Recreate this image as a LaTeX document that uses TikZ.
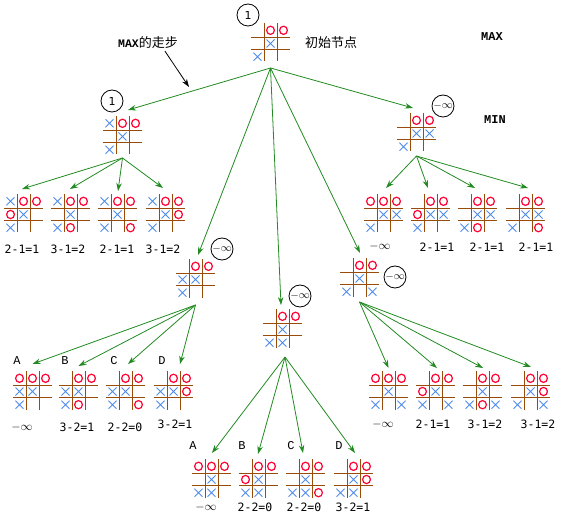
\documentclass[tikz,border=0pt]{standalone}
\usepackage{fontspec}
\setmainfont{DejaVu Sans}
\newfontfamily\cjkfont{Noto Sans CJK SC}
\newfontfamily\tagfont{Liberation Mono}
\newfontfamily\scorefont{DejaVu Sans Mono}
\usetikzlibrary{arrows.meta,calc}

\definecolor{gridbrown}{RGB}{153,76,10}
\definecolor{omred}{RGB}{255,0,51}
\definecolor{xblue}{RGB}{80,140,235}
\definecolor{arrgreen}{RGB}{34,139,34}

\newcommand\neginf{\ensuremath{-\infty}}

\tikzset{
  board/.style={minimum width=39pt,minimum height=38.5pt,inner sep=0pt,outer sep=0pt},
  gridline/.style={draw=gridbrown,line width=0.9pt},
  omark/.style={draw=omred,line width=1.2pt},
  xmark/.style={draw=xblue,line width=0.9pt},
  badge/.style={circle,draw,line width=0.8pt,minimum size=22pt,inner sep=0pt,font=\fontsize{11}{11}\selectfont},
  score/.style={font=\scorefont\fontsize{11.5}{12}\selectfont,inner sep=0pt},
  inf/.style={font=\fontsize{12}{12}\selectfont,inner sep=0pt},
  tag/.style={font=\tagfont\fontsize{12}{12}\selectfont,inner sep=0pt},
  heading/.style={font=\tagfont\bfseries\fontsize{12}{12}\selectfont,inner sep=0pt},
  arr/.style={draw=arrgreen,line width=0.8pt,-{Stealth[length=8pt,width=5.5pt]}},
  pointer/.style={draw=black,line width=0.8pt,-{Stealth[length=8pt,width=5.5pt]}},
}

% tic-tac-toe board: name, left, top, O cells, X cells (row/column)
\newcommand\tttboard[5]{%
  \node[board,anchor=north west] (#1) at (#2,#3) {};
  \begin{scope}[shift={(#1.north west)}]
    \draw[gridline] (13,0) -- (13,38.5) (26,0) -- (26,38.5) (0,14) -- (39,14) (0,26.5) -- (39,26.5);
    \foreach \mr/\mc in {#4}
      \draw[omark] ({6.5+13*(\mc-1)},{7.3+13.2*(\mr-1)}) circle[x radius=3.9pt,y radius=4.1pt];
    \foreach \mr/\mc in {#5}
      \draw[xmark] ({6.5+13*(\mc-1)-4},{7.3+13.2*(\mr-1)-4}) -- ++(8,8) ++(-8,0) -- ++(8,-8);
  \end{scope}}

\begin{document}
\begin{tikzpicture}[x=1pt,y=-1pt]
  \path[fill=white,use as bounding box] (0,0) rectangle (564,518);

  % root (MAX to move)
  \tttboard{root}{251}{23}{1/2,1/3}{2/2,3/1}
  \node[badge] (root-val) at (248,15) {1};
  \node[font=\cjkfont\fontsize{13}{13}\selectfont] (root-lbl) at (331,43) {初始节点};
  \node[inner sep=0pt] (movelbl) at (148,43) {{\tagfont\bfseries\fontsize{11.5}{12}\selectfont MAX}{\cjkfont\fontsize{13}{13}\selectfont 的走步}};
  \coordinate (movetip) at (189,87);
  \draw[pointer] ([xshift=17pt,yshift=-2pt]movelbl.south) -- (movetip);
  \node[heading] (maxlbl) at (492,37) {MAX};
  \node[heading] (minlbl) at (495,120) {MIN};

  % MIN level, left
  \tttboard{lmin}{103}{116}{1/2,1/3}{1/1,2/2,3/1}
  \node[badge] (lmin-val) at (112,101) {1};
  \tttboard{a1}{4}{194}{1/2,1/3,2/1}{1/1,2/2,3/1}
  \tttboard{a2}{51}{194}{1/2,1/3,3/2}{1/1,2/2,3/1}
  \tttboard{a3}{98}{194}{1/2,1/3,3/3}{1/1,2/2,3/1}
  \tttboard{a4}{146}{194}{1/2,1/3,2/3}{1/1,2/2,3/1}
  \node[score] (a1-s) at (22,249) {2-1=1};
  \node[score] (a2-s) at (68,249) {3-1=2};
  \node[score] (a3-s) at (117,249) {2-1=1};
  \node[score] (a4-s) at (163,249) {3-1=2};

  % MIN level, right
  \tttboard{rmin}{397}{113}{1/2,1/3}{2/2,2/3,3/1}
  \node[badge] (rmin-val) at (443,106) {\neginf};
  \tttboard{b1}{364}{194}{1/1,1/2,1/3}{2/2,2/3,3/1}
  \tttboard{b2}{411}{194}{1/2,1/3,2/1}{2/2,2/3,3/1}
  \tttboard{b3}{458}{194}{1/2,1/3,3/2}{2/2,2/3,3/1}
  \tttboard{b4}{506}{194}{1/2,1/3,3/3}{2/2,2/3,3/1}
  \node[inf] (b1-s) at (380,247) {\neginf};
  \node[score] (b2-s) at (437,247) {2-1=1};
  \node[score] (b3-s) at (487,247) {2-1=1};
  \node[score] (b4-s) at (536,247) {2-1=1};

  % MIN level, left middle
  \tttboard{lm}{176}{259}{1/2,1/3}{2/1,2/2,3/1}
  \node[badge] (lm-val) at (222,249) {\neginf};
  \tttboard{c1}{13}{371}{1/1,1/2,1/3}{2/1,2/2,3/1}
  \tttboard{c2}{59}{371}{1/2,1/3,3/2}{2/1,2/2,3/1}
  \tttboard{c3}{106}{371}{1/2,1/3,3/3}{2/1,2/2,3/1}
  \tttboard{c4}{154}{371}{1/2,1/3,2/3}{2/1,2/2,3/1}
  \node[tag] (c1-t) at (17,361) {A};
  \node[tag] (c2-t) at (65,361) {B};
  \node[tag] (c3-t) at (114,361) {C};
  \node[tag] (c4-t) at (162,361) {D};
  \node[inf] (c1-s) at (22,427) {\neginf};
  \node[score] (c2-s) at (77,427) {3-2=1};
  \node[score] (c3-s) at (125,427) {2-2=0};
  \node[score] (c4-s) at (175,424) {3-2=1};

  % MIN level, centre
  \tttboard{mid}{263}{309}{1/2,1/3}{2/2,3/1,3/2}
  \node[badge] (mid-val) at (300,296) {\neginf};
  \tttboard{d1}{192}{459}{1/1,1/2,1/3}{2/2,3/1,3/2}
  \tttboard{d2}{239}{459}{1/2,1/3,2/1}{2/2,3/1,3/2}
  \tttboard{d3}{286}{459}{1/2,1/3,3/3}{2/2,3/1,3/2}
  \tttboard{d4}{334}{459}{1/2,1/3,2/3}{2/2,3/1,3/2}
  \node[tag] (d1-t) at (193,446) {A};
  \node[tag] (d2-t) at (242,446) {B};
  \node[tag] (d3-t) at (291,446) {C};
  \node[tag] (d4-t) at (339,446) {D};
  \node[inf] (d1-s) at (206,507) {\neginf};
  \node[score] (d2-s) at (255,507) {2-2=0};
  \node[score] (d3-s) at (304,507) {2-2=0};
  \node[score] (d4-s) at (353,507) {3-2=1};

  % MIN level, right middle
  \tttboard{rm}{340}{258}{1/2,1/3}{2/2,3/1,3/3}
  \node[badge] (rm-val) at (395,277) {\neginf};
  \tttboard{e1}{369}{371}{1/1,1/2,1/3}{2/2,3/1,3/3}
  \tttboard{e2}{416}{371}{1/2,1/3,2/1}{2/2,3/1,3/3}
  \tttboard{e3}{463}{371}{1/2,1/3,3/2}{2/2,3/1,3/3}
  \tttboard{e4}{511}{371}{1/2,1/3,2/3}{2/2,3/1,3/3}
  \node[inf] (e1-s) at (383,424) {\neginf};
  \node[score] (e2-s) at (433,424) {2-1=1};
  \node[score] (e3-s) at (485,424) {3-1=2};
  \node[score] (e4-s) at (538,424) {3-1=2};

  % fan points below each expanded board
  \coordinate (root-fan) at ([yshift=-6.5pt]root.south);
  \coordinate (lmin-fan) at ([yshift=-3.5pt]lmin.south);
  \coordinate (rmin-fan) at ([yshift=-4.5pt]rmin.south);
  \coordinate (lm-fan) at ([yshift=-7.5pt]lm.south);
  \coordinate (mid-fan) at ([xshift=2.5pt,yshift=-9.5pt]mid.south);
  \coordinate (rm-fan) at ([yshift=-5.5pt]rm.south);

  % moves from the root
  \draw[arr] (root-fan) -- ([xshift=5.5pt,yshift=6pt]lmin.north);
  \draw[arr] (root-fan) -- ([xshift=-3.5pt,yshift=5pt]rmin.north);
  \draw[arr] (root-fan) -- ([xshift=2.5pt,yshift=4pt]lm.north);
  \draw[arr] (root-fan) -- ([xshift=-1.5pt,yshift=4pt]mid.north);
  \draw[arr] (root-fan) -- ([xshift=0.5pt,yshift=5pt]rm.north);

  % replies
  \draw[arr] (lmin-fan) -- ([xshift=-1.5pt,yshift=5pt]a1.north);
  \draw[arr] (lmin-fan) -- ([xshift=-0.5pt,yshift=5pt]a2.north);
  \draw[arr] (lmin-fan) -- ([xshift=0.5pt,yshift=3pt]a3.north);
  \draw[arr] (lmin-fan) -- ([xshift=-2.5pt,yshift=6pt]a4.north);

  \draw[arr] (rmin-fan) -- ([xshift=2.5pt,yshift=6pt]b1.north);
  \draw[arr] (rmin-fan) -- ([xshift=-2.5pt,yshift=6pt]b2.north);
  \draw[arr] (rmin-fan) -- ([xshift=-2.5pt,yshift=6pt]b3.north);
  \draw[arr] (rmin-fan) -- ([xshift=2.5pt,yshift=6pt]b4.north);

  \draw[arr] (lm-fan) -- ([yshift=7pt]c1.north);
  \draw[arr] (lm-fan) -- ([yshift=5pt]c2.north);
  \draw[arr] (lm-fan) -- ([xshift=2.5pt,yshift=7pt]c3.north);
  \draw[arr] (lm-fan) -- ([xshift=6.5pt,yshift=7pt]c4.north);

  \draw[arr] (mid-fan) -- ([xshift=0.5pt,yshift=6pt]d1.north);
  \draw[arr] (mid-fan) -- ([xshift=-0.5pt,yshift=5pt]d2.north);
  \draw[arr] (mid-fan) -- ([xshift=-2.5pt,yshift=6pt]d3.north);
  \draw[arr] (mid-fan) -- ([xshift=1.5pt,yshift=6pt]d4.north);

  \draw[arr] (rm-fan) -- ([yshift=3pt]e1.north);
  \draw[arr] (rm-fan) -- ([xshift=1.5pt,yshift=3pt]e2.north);
  \draw[arr] (rm-fan) -- ([xshift=0.5pt,yshift=3pt]e3.north);
  \draw[arr] (rm-fan) -- ([xshift=0.5pt,yshift=4pt]e4.north);
\end{tikzpicture}
\end{document}
